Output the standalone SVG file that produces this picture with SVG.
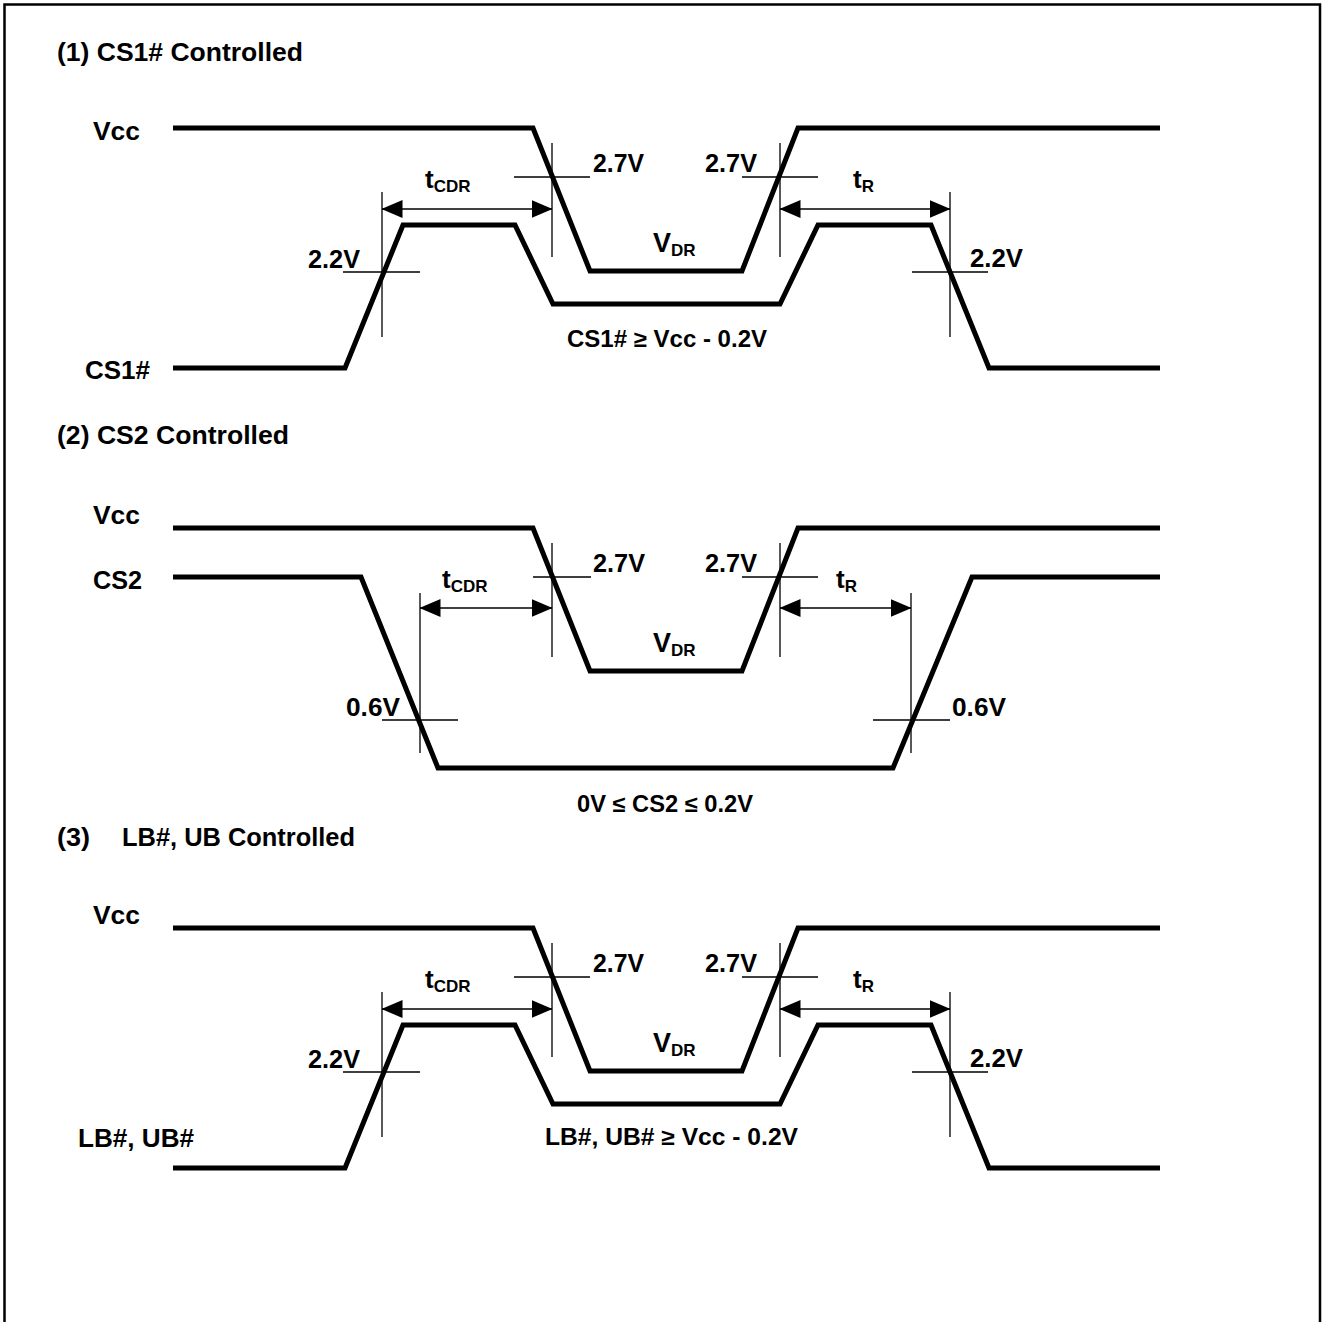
<svg xmlns="http://www.w3.org/2000/svg" width="1322" height="1322" viewBox="0 0 1322 1322">
<style>
text{font-family:"Liberation Sans",Arial,sans-serif;font-weight:bold;fill:#000}
.hd{font-size:25px}
.lb{font-size:26px}
.v{font-size:25px}
.cond{font-size:23px}
.sub{font-size:17px}
.sig{fill:none;stroke:#000;stroke-width:5;stroke-linejoin:miter}
.thin{fill:none;stroke:#000;stroke-width:1.3}
.dim{fill:none;stroke:#000;stroke-width:1.3;marker-start:url(#arr);marker-end:url(#arr)}
</style>
<defs>
<marker id="arr" markerUnits="userSpaceOnUse" markerWidth="21" markerHeight="18" viewBox="0 0 21 18" refX="20.5" refY="9" orient="auto-start-reverse">
<path d="M0,0 L21,9 L0,18 z" fill="#000"/>
</marker>
</defs>
<rect width="1322" height="1322" fill="#fff"/>
<path d="M4.5,1322 V4.5 H1320 V1322" fill="none" stroke="#000" stroke-width="2.5"/>

<g id="section1">
<text class="hd" x="57" y="61" textLength="246" lengthAdjust="spacingAndGlyphs">(1) CS1# Controlled</text>
<g id="s1-vcc"><path class="sig" d="M173,128 H533 L590,271 H742 L798,128 H1160"/><text class="lb" x="93" y="140" textLength="47" lengthAdjust="spacingAndGlyphs">Vcc</text></g>
<g id="s1-cs1"><path class="sig" d="M173,368 H345 L403,225 H515 L553,304 H780 L818,225 H931 L989,368 H1160"/><text class="lb" x="85" y="379" textLength="65" lengthAdjust="spacingAndGlyphs">CS1#</text></g>
<g id="s1-refs">
<path class="thin" d="M343,272 H420 M382,192 V337 M514,177 H590 M552,143 V257 M742,177 H818 M780,143 V257 M912,272 H988 M950,192 V337"/>
<text class="v" x="308" y="268" textLength="52" lengthAdjust="spacingAndGlyphs">2.2V</text>
<text class="v" x="593" y="172" textLength="51" lengthAdjust="spacingAndGlyphs">2.7V</text>
<text class="v" x="705" y="172" textLength="52" lengthAdjust="spacingAndGlyphs">2.7V</text>
<text class="v" x="970" y="267" textLength="53" lengthAdjust="spacingAndGlyphs">2.2V</text>
</g>
<g id="s1-timing">
<line class="dim" x1="382" y1="209" x2="552" y2="209"/>
<line class="dim" x1="780" y1="209" x2="950" y2="209"/>
<text class="lb" x="425" y="188">t<tspan class="sub" dy="4">CDR</tspan></text>
<text class="lb" x="853" y="188">t<tspan class="sub" dy="4">R</tspan></text>
<text x="653" y="252" font-size="27">V<tspan class="sub" dy="4">DR</tspan></text>
<text class="cond" x="567" y="347" textLength="200" lengthAdjust="spacingAndGlyphs">CS1# ≥ Vcc - 0.2V</text>
</g>
</g>

<g id="section2">
<text class="hd" x="57" y="444" textLength="232" lengthAdjust="spacingAndGlyphs">(2) CS2 Controlled</text>
<g id="s2-vcc"><path class="sig" d="M173,528 H533 L590,671 H742 L798,528 H1160"/><text class="lb" x="93" y="524" textLength="47" lengthAdjust="spacingAndGlyphs">Vcc</text></g>
<g id="s2-cs2"><path class="sig" d="M173,577 H361 L438,768 H893 L972,577 H1160"/><text class="lb" x="93" y="589" textLength="49" lengthAdjust="spacingAndGlyphs">CS2</text></g>
<g id="s2-refs">
<path class="thin" d="M382,720 H458 M420,593 V753 M533,577 H591 M552,543 V657 M742,577 H818 M780,543 V657 M873,720 H950 M911,593 V753"/>
<text class="v" x="346" y="716" textLength="54" lengthAdjust="spacingAndGlyphs">0.6V</text>
<text class="v" x="593" y="572" textLength="52" lengthAdjust="spacingAndGlyphs">2.7V</text>
<text class="v" x="705" y="572" textLength="52" lengthAdjust="spacingAndGlyphs">2.7V</text>
<text class="v" x="952" y="716" textLength="54" lengthAdjust="spacingAndGlyphs">0.6V</text>
</g>
<g id="s2-timing">
<line class="dim" x1="420" y1="608" x2="552" y2="608"/>
<line class="dim" x1="780" y1="608" x2="911" y2="608"/>
<text class="lb" x="442" y="588">t<tspan class="sub" dy="4">CDR</tspan></text>
<text class="lb" x="836" y="588">t<tspan class="sub" dy="4">R</tspan></text>
<text x="653" y="652" font-size="27">V<tspan class="sub" dy="4">DR</tspan></text>
<text class="cond" x="577" y="812" textLength="176" lengthAdjust="spacingAndGlyphs">0V ≤ CS2 ≤ 0.2V</text>
</g>
</g>

<g id="section3">
<text class="hd" y="846"><tspan x="57" textLength="33" lengthAdjust="spacingAndGlyphs">(3)</tspan><tspan x="122" textLength="233" lengthAdjust="spacingAndGlyphs">LB#, UB Controlled</tspan></text>
<g id="s3-vcc"><path class="sig" d="M173,928 H533 L590,1071 H742 L798,928 H1160"/><text class="lb" x="93" y="924" textLength="47" lengthAdjust="spacingAndGlyphs">Vcc</text></g>
<g id="s3-lbub"><path class="sig" d="M173,1168 H345 L403,1025 H515 L553,1104 H780 L818,1025 H931 L989,1168 H1160"/><text class="lb" x="78" y="1147" textLength="116" lengthAdjust="spacingAndGlyphs">LB#, UB#</text></g>
<g id="s3-refs">
<path class="thin" d="M343,1072 H420 M382,992 V1137 M514,977 H590 M552,943 V1057 M742,977 H818 M780,943 V1057 M912,1072 H988 M950,992 V1137"/>
<text class="v" x="308" y="1068" textLength="52" lengthAdjust="spacingAndGlyphs">2.2V</text>
<text class="v" x="593" y="972" textLength="51" lengthAdjust="spacingAndGlyphs">2.7V</text>
<text class="v" x="705" y="972" textLength="52" lengthAdjust="spacingAndGlyphs">2.7V</text>
<text class="v" x="970" y="1067" textLength="53" lengthAdjust="spacingAndGlyphs">2.2V</text>
</g>
<g id="s3-timing">
<line class="dim" x1="382" y1="1009" x2="552" y2="1009"/>
<line class="dim" x1="780" y1="1009" x2="950" y2="1009"/>
<text class="lb" x="425" y="988">t<tspan class="sub" dy="4">CDR</tspan></text>
<text class="lb" x="853" y="988">t<tspan class="sub" dy="4">R</tspan></text>
<text x="653" y="1052" font-size="27">V<tspan class="sub" dy="4">DR</tspan></text>
<text class="cond" x="545" y="1145" textLength="253" lengthAdjust="spacingAndGlyphs">LB#, UB# ≥ Vcc - 0.2V</text>
</g>
</g>
</svg>
